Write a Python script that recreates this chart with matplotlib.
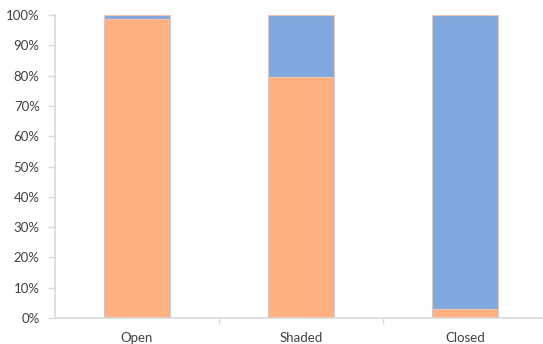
import numpy as np
import matplotlib
matplotlib.use("Agg")
import matplotlib.pyplot as plt
import matplotlib.ticker as mticker

categories = ["Open", "Shaded", "Closed"]
orange_share = [98.6, 79.5, 3.0]
blue_share = [1.4, 20.5, 97.0]

ORANGE = "#FFB07E"
BLUE = "#80AADD"
GRID = "#D9D9D9"
TEXT = "#404040"

plt.rcParams['font.family'] = ['Lato', 'DejaVu Sans']

fig = plt.figure(figsize=(5.43, 3.44), dpi=100)
ax = fig.add_axes([55/543., 26/344., 492/543., 303/344.])

index = np.arange(len(categories))
bar_width = 0.4
ax.bar(index, orange_share, bar_width, color=ORANGE, edgecolor="#B9CDE5", linewidth=0.8)
ax.bar(index, blue_share, bar_width, bottom=orange_share, color=BLUE,
       edgecolor="#F2C3A8", linewidth=0.8)

ax.set_xlim(-0.5, 2.5)
ax.set_ylim(0, 100)
ax.yaxis.set_major_locator(mticker.MultipleLocator(10))
ax.yaxis.set_major_formatter(mticker.FormatStrFormatter('%d%%'))

ax.set_xticks(index)
ax.set_xticklabels(categories)
ax.set_xticks([0.5, 1.5], minor=True)
ax.tick_params(axis='x', which='major', length=0, pad=10, labelsize=9.5, labelcolor=TEXT)
ax.tick_params(axis='x', which='minor', length=4, color=GRID, width=1)
ax.tick_params(axis='y', length=5, color=GRID, width=1, labelsize=9.5,
               labelcolor=TEXT, pad=6)

for side in ['top', 'right']:
    ax.spines[side].set_visible(False)
for side in ['left', 'bottom']:
    ax.spines[side].set_color(GRID)
    ax.spines[side].set_linewidth(1.2)

fig.savefig("out.png", dpi=100)
